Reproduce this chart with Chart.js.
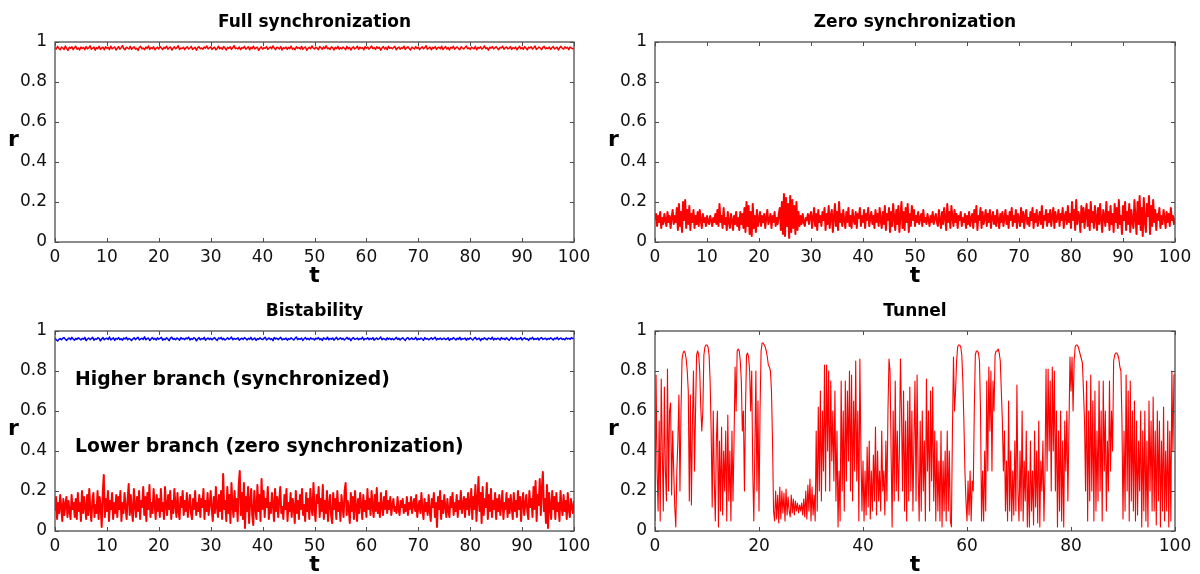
<!DOCTYPE html>
<html>
<head>
<meta charset="utf-8">
<script src="https://cdn.jsdelivr.net/npm/chart.js@4/dist/chart.umd.min.js"></script>
<style>
body { margin: 0; background: #fff; width: 1200px; height: 574px; position: relative; overflow: hidden; }
canvas { position: absolute; }
</style>
</head>
<body>
<canvas id="c1" width="600" height="287" style="left:0;top:0"></canvas>
<canvas id="c2" width="600" height="287" style="left:600px;top:0"></canvas>
<canvas id="c3" width="600" height="287" style="left:0;top:289px"></canvas>
<canvas id="c4" width="600" height="287" style="left:600px;top:289px"></canvas>
<script>
var fullSync = [
  .972,.965,.978,.968,.961,.975,.97,.963,.98,.967,.958,.974,.969,.976,.962,.971,.979,.964,.97,.96,
  .975,.968,.973,.962,.977,.966,.971,.981,.964,.969,.975,.959,.972,.967,.978,.963,.97,.974,.961,.976,
  .968,.973,.962,.979,.966,.971,.975,.96,.969,.977,.964,.972,.982,.967,.961,.974,.97,.965,.978,.963,
  .971,.976,.964,.969,.958,.973,.978,.966,.97,.962,.975,.968,.98,.963,.972,.967,.976,.961,.969,.974,
  .965,.977,.97,.962,.973,.968,.979,.964,.971,.975,.96,.969,.976,.966,.972,.981,.963,.97,.967,.974,
  .962,.971,.976,.965,.97,.978,.963,.968,.974,.959,.972,.977,.966,.97,.964,.975,.969,.98,.965,.971,
  .976,.963,.97,.974,.961,.968,.979,.966,.972,.964,.977,.97,.96,.973,.968,.976,.963,.971,.982,.967,
  .97,.965,.975,.962,.972,.969,.978,.964,.97,.976,.961,.973,.967,.979,.965,.971,.974,.958,.969,.976,
  .964,.972,.968,.977,.963,.97,.975,.966,.98,.969,.962,.974,.971,.965,.977,.96,.972,.968,.975,.963,
  .973,.967,.979,.964,.97,.961,.976,.969,.972,.965,.978,.963,.971,.975,.959,.968,.974,.966,.98,.97,
  .965,.974,.969,.962,.977,.971,.964,.975,.968,.981,.966,.97,.963,.976,.972,.96,.973,.967,.978,.964,
  .971,.966,.975,.969,.962,.978,.967,.973,.96,.971,.976,.965,.97,.979,.963,.974,.968,.972,.961,.977,
  .969,.975,.964,.971,.98,.966,.972,.963,.976,.968,.974,.959,.97,.977,.965,.973,.962,.978,.969,.972,
  .966,.973,.978,.961,.97,.975,.964,.972,.968,.979,.963,.971,.976,.967,.96,.974,.97,.965,.977,.968,
  .974,.962,.97,.976,.966,.972,.981,.964,.969,.975,.961,.973,.968,.977,.963,.971,.974,.966,.979,.962,
  .97,.977,.965,.972,.96,.974,.969,.978,.964,.971,.975,.967,.962,.976,.97,.965,.973,.98,.966,.971,
  .963,.975,.97,.966,.978,.961,.973,.968,.976,.964,.97,.98,.967,.972,.959,.974,.969,.977,.965,.971,
  .976,.968,.962,.973,.97,.979,.964,.971,.975,.966,.969,.977,.963,.972,.968,.975,.961,.97,.978,.966,
  .972,.964,.977,.969,.961,.974,.97,.976,.965,.971,.98,.963,.968,.975,.97,.962,.973,.978,.966,.971,
  .967,.975,.963,.971,.977,.965,.97,.974,.96,.972,.978,.968,.964,.976,.969,.973,.962,.975,.97,.966,
  .968
];

var zeroSync = [
  .11,.14,.08,.13,.1,.15,.07,.12,.09,.14,.11,.08,.15,.1,.13,.07,.12,.16,.09,.13,
  .1,.17,.06,.19,.08,.15,.05,.2,.11,.21,.07,.16,.09,.18,.06,.14,.1,.16,.07,.13,
  .09,.15,.08,.16,.11,.07,.14,.1,.12,.08,.13,.1,.09,.13,.11,.08,.12,.1,.14,.09,
  .16,.08,.19,.1,.13,.07,.17,.09,.12,.06,.15,.1,.07,.14,.11,.06,.13,.09,.15,.08,
  .12,.06,.15,.09,.14,.07,.17,.05,.2,.08,.18,.04,.15,.03,.19,.07,.13,.05,.16,.08,
  .11,.15,.08,.13,.1,.14,.07,.12,.16,.09,.11,.14,.07,.13,.1,.15,.08,.12,.09,.14,
  .17,.06,.2,.04,.24,.03,.22,.08,.19,.02,.23,.05,.21,.07,.18,.04,.2,.06,.15,.08,
  .13,.09,.14,.1,.08,.12,.11,.14,.09,.13,.15,.07,.12,.17,.08,.14,.06,.16,.1,.13,
  .08,.15,.11,.17,.06,.14,.09,.18,.07,.13,.16,.05,.12,.19,.08,.15,.06,.2,.1,.14,
  .08,.16,.11,.07,.15,.1,.17,.08,.13,.07,.16,.11,.09,.15,.07,.14,.12,.17,.08,.13,
  .1,.16,.07,.14,.11,.17,.08,.12,.15,.09,.13,.07,.16,.1,.14,.08,.17,.11,.07,.15,
  .09,.18,.06,.14,.11,.17,.05,.15,.08,.19,.12,.06,.16,.09,.18,.05,.13,.2,.07,.15,
  .06,.17,.1,.19,.05,.14,.08,.18,.11,.16,.08,.13,.1,.15,.09,.12,.14,.08,.16,.1,
  .12,.09,.14,.11,.08,.13,.1,.15,.09,.12,.14,.1,.08,.16,.11,.07,.15,.09,.17,.12,
  .06,.19,.1,.15,.07,.18,.12,.08,.16,.1,.14,.07,.13,.11,.15,.08,.12,.1,.14,.07,
  .13,.09,.15,.08,.12,.14,.07,.16,.1,.18,.06,.13,.11,.17,.07,.15,.09,.12,.16,.08,
  .14,.1,.16,.07,.12,.15,.09,.13,.08,.16,.11,.07,.14,.1,.15,.08,.12,.16,.09,.13,
  .07,.15,.11,.17,.08,.13,.1,.16,.07,.14,.12,.08,.17,.1,.15,.07,.13,.16,.09,.12,
  .08,.15,.11,.17,.07,.14,.1,.16,.08,.12,.15,.09,.18,.07,.13,.11,.16,.08,.14,.1,
  .16,.08,.13,.17,.07,.15,.1,.12,.16,.08,.14,.11,.17,.07,.13,.15,.09,.18,.1,.14,
  .07,.2,.11,.16,.06,.21,.09,.15,.13,.05,.18,.1,.17,.07,.14,.19,.08,.16,.06,.2,
  .1,.15,.07,.18,.12,.06,.17,.09,.19,.11,.05,.16,.13,.08,.2,.1,.15,.06,.18,.09,
  .14,.05,.19,.1,.17,.07,.21,.09,.13,.04,.18,.11,.2,.06,.15,.09,.19,.05,.16,.1,
  .07,.21,.12,.04,.2,.09,.23,.06,.17,.03,.22,.1,.05,.19,.13,.23,.04,.18,.08,.21,
  .1,.16,.06,.14,.11,.17,.07,.13,.09,.16,.12,.07,.15,.1,.14,.08,.17,.11,.13,.09,
  .12
];

var bistHigh = [
  .966,.955,.95,.958,.962,.956,.964,.967,.959,.953,.961,.965,.957,.968,.96,.954,.963,.958,.966,.961,
  .955,.963,.959,.968,.952,.96,.965,.957,.962,.969,.954,.961,.958,.966,.963,.951,.96,.967,.956,.962,
  .964,.958,.97,.955,.961,.966,.953,.963,.959,.967,.957,.962,.954,.965,.96,.968,.956,.963,.959,.952,
  .961,.966,.957,.963,.969,.955,.96,.964,.958,.971,.956,.962,.965,.953,.96,.967,.958,.963,.955,.966,
  .959,.963,.968,.954,.961,.957,.966,.96,.952,.964,.969,.958,.962,.956,.965,.961,.954,.967,.96,.963,
  .957,.965,.961,.969,.955,.962,.958,.966,.963,.951,.96,.967,.956,.963,.959,.968,.954,.961,.965,.958,
  .964,.956,.962,.967,.959,.953,.965,.961,.968,.957,.963,.955,.96,.966,.958,.962,.97,.956,.963,.959,
  .961,.966,.954,.96,.964,.958,.967,.962,.955,.963,.959,.968,.956,.961,.965,.953,.962,.958,.966,.96,
  .957,.963,.969,.955,.961,.965,.958,.962,.952,.967,.96,.964,.957,.963,.968,.956,.961,.959,.965,.954,
  .962,.958,.966,.96,.955,.964,.97,.957,.962,.959,.965,.953,.961,.967,.958,.963,.956,.966,.96,.962,
  .955,.964,.96,.967,.957,.962,.953,.966,.961,.958,.969,.956,.963,.959,.965,.954,.962,.968,.957,.961,
  .966,.958,.963,.955,.961,.968,.959,.964,.952,.962,.967,.958,.96,.965,.956,.963,.959,.969,.955,.962,
  .96,.966,.957,.963,.959,.967,.954,.961,.965,.958,.962,.97,.956,.963,.96,.955,.966,.959,.964,.957,
  .963,.956,.961,.968,.958,.964,.955,.962,.966,.959,.953,.963,.967,.957,.961,.965,.958,.96,.968,.955,
  .962,.958,.965,.96,.954,.967,.959,.963,.956,.961,.966,.958,.963,.969,.955,.962,.959,.965,.957,.961,
  .964,.957,.96,.966,.953,.962,.958,.967,.961,.955,.964,.959,.968,.956,.962,.96,.965,.954,.963,.958,
  .966,.96,.955,.963,.968,.957,.961,.964,.952,.962,.958,.966,.96,.956,.965,.962,.959,.969,.955,.963,
  .958,.964,.961,.955,.967,.96,.963,.957,.966,.959,.954,.962,.968,.958,.961,.965,.956,.963,.96,.967,
  .955,.962,.966,.958,.961,.953,.964,.96,.968,.957,.962,.959,.965,.955,.963,.967,.958,.961,.964,.956,
  .963,.959,.966,.961,.955,.964,.96,.968,.957,.962,.965,.958,.961,.956,.966,.96,.963,.959,.967,.962,
  .962
];

var bistLow = [
  .1,.17,.06,.14,.09,.18,.12,.05,.16,.08,.13,.17,.07,.15,.1,.06,.18,.11,.14,.07,
  .16,.06,.19,.1,.14,.05,.2,.09,.17,.12,.06,.18,.08,.21,.11,.05,.15,.19,.07,.13,
  .09,.2,.06,.17,.12,.02,.19,.28,.07,.16,.1,.2,.05,.15,.11,.19,.06,.14,.09,.18,
  .07,.17,.11,.2,.05,.14,.09,.19,.12,.06,.16,.235,.08,.18,.1,.05,.21,.13,.07,.17,
  .1,.2,.06,.15,.12,.22,.08,.17,.05,.19,.11,.23,.07,.14,.09,.21,.13,.06,.18,.1,
  .16,.07,.21,.1,.14,.06,.22,.12,.08,.18,.11,.2,.06,.15,.09,.21,.13,.07,.19,.1,
  .06,.17,.12,.2,.08,.15,.1,.19,.07,.13,.18,.09,.06,.16,.11,.2,.08,.14,.1,.18,
  .07,.16,.12,.21,.06,.15,.1,.19,.08,.13,.2,.11,.05,.17,.09,.22,.12,.07,.18,.1,
  .2,.06,.285,.11,.15,.05,.22,.09,.18,.04,.24,.12,.07,.2,.1,.16,.05,.23,.3,.08,
  .19,.06,.24,.015,.17,.1,.22,.04,.15,.21,.08,.03,.2,.12,.06,.23,.1,.18,.05,.26,
  .11,.2,.07,.16,.12,.22,.06,.14,.09,.19,.13,.05,.21,.1,.17,.07,.15,.22,.09,.12,
  .06,.18,.11,.21,.05,.14,.1,.19,.07,.16,.12,.04,.2,.09,.15,.06,.18,.11,.21,.08,
  .13,.05,.19,.1,.16,.06,.21,.12,.08,.24,.11,.05,.18,.14,.22,.07,.16,.1,.23,.06,
  .15,.09,.2,.05,.13,.18,.08,.04,.19,.11,.16,.06,.2,.1,.14,.05,.18,.12,.07,.2,
  .24,.08,.15,.11,.04,.19,.1,.17,.06,.2,.12,.05,.16,.09,.19,.13,.06,.18,.1,.15,
  .07,.21,.11,.16,.08,.2,.12,.07,.18,.1,.215,.09,.14,.07,.19,.12,.08,.17,.11,.2,
  .09,.15,.11,.17,.08,.13,.16,.1,.12,.09,.17,.11,.08,.15,.12,.16,.09,.13,.1,.17,
  .08,.14,.11,.17,.09,.13,.16,.1,.18,.07,.12,.15,.09,.19,.11,.06,.16,.1,.14,.08,
  .18,.1,.05,.16,.12,.19,.07,.14,.02,.17,.11,.2,.06,.15,.09,.18,.12,.07,.16,.1,
  .07,.17,.12,.19,.08,.14,.1,.18,.07,.15,.11,.2,.09,.13,.17,.07,.16,.11,.19,.08,
  .14,.21,.06,.17,.11,.23,.05,.15,.27,.1,.19,.04,.22,.08,.16,.12,.24,.06,.18,.1,
  .21,.07,.15,.11,.19,.06,.16,.1,.18,.08,.13,.2,.06,.14,.11,.19,.07,.16,.09,.18,
  .12,.06,.19,.1,.15,.07,.2,.11,.17,.05,.14,.19,.08,.13,.18,.1,.06,.2,.12,.16,
  .07,.22,.11,.25,.05,.18,.13,.26,.08,.21,.295,.1,.16,.04,.23,.015,.19,.12,.06,.2,
  .11,.17,.06,.19,.1,.14,.05,.2,.12,.08,.18,.1,.15,.06,.19,.11,.07,.16,.12,.09,
  .15
];

var tunnel = [
  .05,.78,.3,.1,.55,.05,.76,.4,.1,.72,.3,.15,.81,.2,.6,.64,.18,.5,.3,.12,
  .02,.3,.45,.68,.2,.6,.86,.89,.9,.89,.86,.8,.7,.15,.68,.13,.55,.8,.3,.6,
  .88,.9,.88,.8,.62,.5,.6,.88,.92,.93,.93,.92,.88,.75,.5,.12,.6,.25,.05,.45,
  .6,.02,.45,.1,.52,.08,.4,.2,.5,.05,.58,.15,.4,.05,.5,.15,.45,.82,.6,.9,
  .91,.9,.85,.75,.5,.6,.2,.6,.88,.89,.87,.8,.6,.8,.3,.05,.4,.8,.2,.65,
  .1,.6,.9,.94,.94,.93,.92,.9,.87,.83,.82,.8,.7,.45,.1,.05,.2,.06,.18,.04,
  .22,.06,.2,.09,.19,.05,.21,.08,.17,.1,.07,.18,.09,.16,.08,.15,.1,.14,.09,.13,
  .1,.14,.08,.16,.07,.2,.06,.23,.1,.26,.05,.22,.08,.18,.05,.5,.1,.62,.2,.7,
  .15,.6,.3,.83,.2,.83,.4,.8,.2,.75,.35,.6,.25,.7,.15,.5,.02,.3,.05,.75,
  .2,.6,.1,.75,.25,.7,.35,.8,.2,.78,.15,.65,.3,.85,.25,.6,.05,.86,.4,.1,
  .35,.05,.3,.08,.42,.12,.45,.06,.3,.1,.38,.15,.52,.08,.4,.15,.3,.1,.5,.2,
  .3,.08,.45,.15,.6,.86,.8,.4,.02,.6,.15,.75,.2,.5,.15,.4,.86,.6,.2,.7,
  .1,.55,.05,.65,.15,.72,.2,.6,.1,.45,.75,.15,.78,.3,.05,.55,.1,.6,.2,.45,
  .05,.76,.3,.6,.1,.7,.25,.72,.15,.5,.05,.45,.1,.35,.05,.5,.02,.35,.1,.4,
  .05,.5,.1,.4,.05,.02,.5,.87,.6,.7,.85,.92,.93,.93,.92,.88,.75,.55,.3,.15,
  .05,.25,.08,.3,.05,.25,.2,.6,.88,.9,.9,.89,.85,.6,.05,.3,.05,.4,.1,.75,
  .3,.82,.5,.8,.3,.75,.6,.88,.9,.9,.91,.89,.85,.7,.55,.3,.5,.1,.35,.05,
  .65,.1,.4,.05,.3,.08,.45,.1,.73,.2,.05,.4,.1,.6,.05,.35,.15,.5,.02,.3,
  .02,.45,.1,.3,.03,.5,.12,.4,.04,.55,.02,.35,.2,.45,.05,.3,.81,.3,.81,.4,
  .75,.2,.82,.4,.8,.2,.6,.02,.5,.1,.6,.05,.45,.02,.55,.3,.6,.15,.5,.87,
  .7,.87,.6,.85,.92,.93,.93,.92,.9,.88,.86,.84,.7,.55,.2,.75,.05,.6,.15,.78,
  .2,.65,.05,.7,.1,.5,.15,.75,.2,.6,.05,.75,.3,.6,.1,.45,.2,.75,.3,.6,
  .4,.85,.88,.89,.89,.88,.86,.82,.8,.55,.06,.5,.1,.78,.2,.7,.05,.75,.15,.6,
  .1,.65,.05,.55,.08,.45,.2,.6,.02,.5,.1,.6,.05,.45,.02,.65,.2,.55,.1,.67,
  .1,.5,.03,.6,.15,.55,.02,.45,.1,.62,.05,.4,.1,.55,.02,.5,.05,.8,.4,.78,
  .78
];

var yTicks = [0, 0.2, 0.4, 0.6, 0.8, 1];

function toPoints(vals) {
  var step = 100 / (vals.length - 1);
  return vals.map(function (v, i) { return { x: i * step, y: v }; });
}

var framePlugin = {
  id: 'frame',
  afterDraw: function (chart, args, o) {
    var ctx = chart.ctx, a = chart.chartArea;
    var xs = chart.scales.x, ys = chart.scales.y;
    var mid = (a.left + a.right) / 2;
    ctx.save();
    ctx.strokeStyle = '#4d4d4d';
    ctx.lineWidth = 1.3;
    ctx.strokeRect(a.left, a.top, a.right - a.left, a.bottom - a.top);
    ctx.beginPath();
    xs.ticks.forEach(function (t) {
      var px = Math.round(xs.getPixelForValue(t.value)) + 0.5;
      ctx.moveTo(px, a.bottom); ctx.lineTo(px, a.bottom - 4);
      ctx.moveTo(px, a.top); ctx.lineTo(px, a.top + 4);
    });
    ys.ticks.forEach(function (t) {
      var py = Math.round(ys.getPixelForValue(t.value)) + 0.5;
      ctx.moveTo(a.left, py); ctx.lineTo(a.left + 4, py);
      ctx.moveTo(a.right, py); ctx.lineTo(a.right - 4, py);
    });
    ctx.lineWidth = 1;
    ctx.stroke();

    ctx.fillStyle = '#000';
    ctx.textAlign = 'center';
    ctx.textBaseline = 'alphabetic';
    ctx.font = 'bold 17px "DejaVu Sans"';
    ctx.fillText(o.title, mid, 27);
    ctx.font = 'bold 22px "DejaVu Sans"';
    ctx.fillText('r', 13.5, 146);
    ctx.fillText('t', mid, 282);
    if (o.notes) {
      ctx.textAlign = 'left';
      ctx.font = 'bold 18.8px "DejaVu Sans"';
      o.notes.forEach(function (n) { ctx.fillText(n.text, n.x, n.y); });
    }
    ctx.restore();
  }
};

function makePanel(id, title, series, xStep, padRight, notes) {
  var ctx = document.getElementById(id).getContext('2d');
  new Chart(ctx, {
    type: 'line',
    data: {
      datasets: series.map(function (s) {
        return {
          data: toPoints(s.data),
          borderColor: s.color,
          borderWidth: s.width,
          borderJoinStyle: 'round',
          pointRadius: 0,
          fill: false,
          tension: 0
        };
      })
    },
    options: {
      responsive: false,
      animation: false,
      events: [],
      layout: { padding: { left: 0, right: padRight, top: 42, bottom: 0 } },
      plugins: {
        legend: { display: false },
        tooltip: { enabled: false },
        frame: { title: title, notes: notes }
      },
      scales: {
        x: {
          type: 'linear', min: 0, max: 100,
          grid: { display: false, drawTicks: false },
          border: { display: false },
          ticks: { stepSize: xStep, padding: 5, maxRotation: 0, color: '#111',
                   font: { family: 'DejaVu Sans', size: 17 } },
          afterFit: function (s) { s.height = 45; }
        },
        y: {
          min: 0, max: 1,
          grid: { display: false, drawTicks: false },
          border: { display: false },
          afterBuildTicks: function (s) { s.ticks = yTicks.map(function (v) { return { value: v }; }); },
          ticks: { padding: 8, color: '#111', font: { family: 'DejaVu Sans', size: 17 },
                   callback: function (v) { return String(+(+v).toFixed(1)); } },
          afterFit: function (s) { s.width = 55; }
        }
      }
    },
    plugins: [framePlugin]
  });
}

var red = '#ff0000', blue = '#0000ff';

makePanel('c1', 'Full synchronization', [{ data: fullSync, color: red, width: 1.5 }], 10, 26);
makePanel('c2', 'Zero synchronization', [{ data: zeroSync, color: red, width: 2 }], 10, 25);
makePanel('c3', 'Bistability', [
  { data: bistHigh, color: blue, width: 1.5 },
  { data: bistLow, color: red, width: 2 }
], 10, 26, [
  { text: 'Higher branch (synchronized)', x: 75, y: 96 },
  { text: 'Lower branch (zero synchronization)', x: 75, y: 162.5 }
]);
makePanel('c4', 'Tunnel', [{ data: tunnel, color: red, width: 1.1 }], 20, 25);
</script>
</body>
</html>
